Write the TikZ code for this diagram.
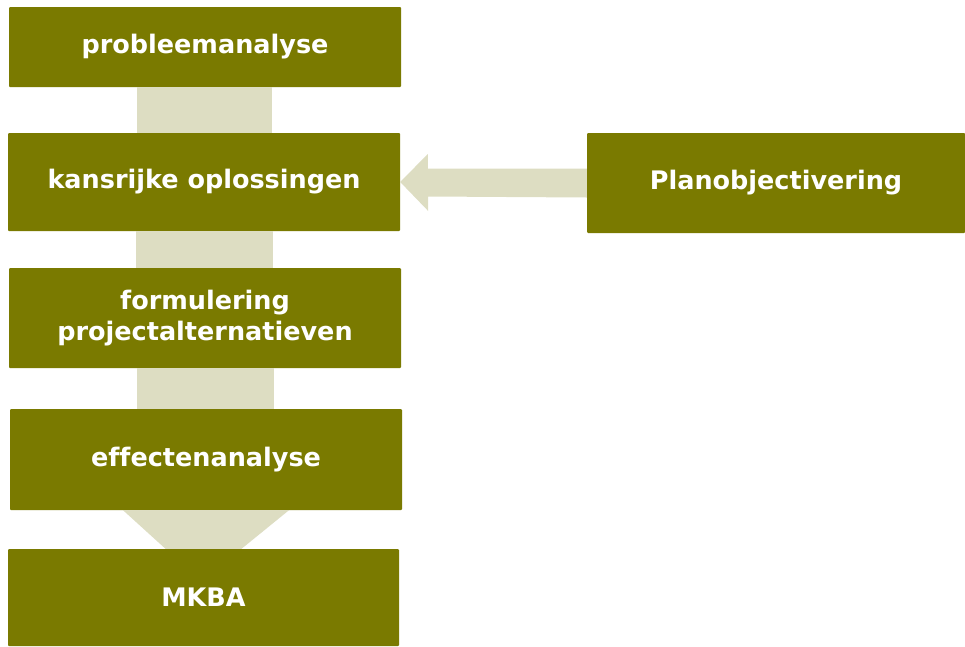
\documentclass[tikz,border=0pt]{standalone}
\usepackage{fontspec}
\setmainfont[Ligatures=NoCommon]{DejaVu Sans}
\definecolor{olijf}{RGB}{122,122,0}
\definecolor{lichtolijf}{RGB}{221,221,194}
\begin{document}
\begin{tikzpicture}[x=1pt,y=-1pt,
    stap/.style={fill=olijf,text=white,rounded corners=1pt,inner sep=0pt,
      minimum width=392pt,align=center,
      font=\fontsize{25.5}{31}\selectfont\bfseries},
    band/.style={fill=lichtolijf}]
  \useasboundingbox (0,0) rectangle (965,646);
  \node [stap,minimum height=80pt] (prob) at (205,47) {probleemanalyse};
  \node [stap,minimum height=98pt] (kans) at (204,182) {kansrijke oplossingen};
  \node [stap,minimum height=100pt] (form) at (205,318) {formulering\\projectalternatieven};
  \node [stap,minimum height=101pt] (eff) at (206,459.5) {effectenanalyse};
  \node [stap,minimum height=97pt,minimum width=391pt] (mkba) at (203.5,597.5) {MKBA};
  \node [stap,minimum height=100pt,minimum width=378pt] (plan) at (776,183) {Planobjectivering};
  % banen tussen de stappen
  \fill [band] ([xshift=-68pt]prob.south) rectangle ([xshift=68pt]kans.north);
  \fill [band] ([xshift=-68pt]kans.south) rectangle ([xshift=68pt]form.north);
  \fill [band] ([xshift=-68pt]form.south) rectangle ([xshift=68pt]eff.north);
  \fill [band] ([xshift=-83pt]eff.south) -- ([xshift=83pt]eff.south)
    -- ([xshift=38pt]mkba.north) -- ([xshift=-38pt]mkba.north) -- cycle;
  \fill [band] ([yshift=14.5pt]plan.west) -- ++(-159,0) -- ++(0,-14.5)
    -- (kans.east) -- ++(28,29) -- ++(0,-14.5)
    -- ([yshift=-14.5pt]plan.west) -- cycle;
\end{tikzpicture}
\end{document}
